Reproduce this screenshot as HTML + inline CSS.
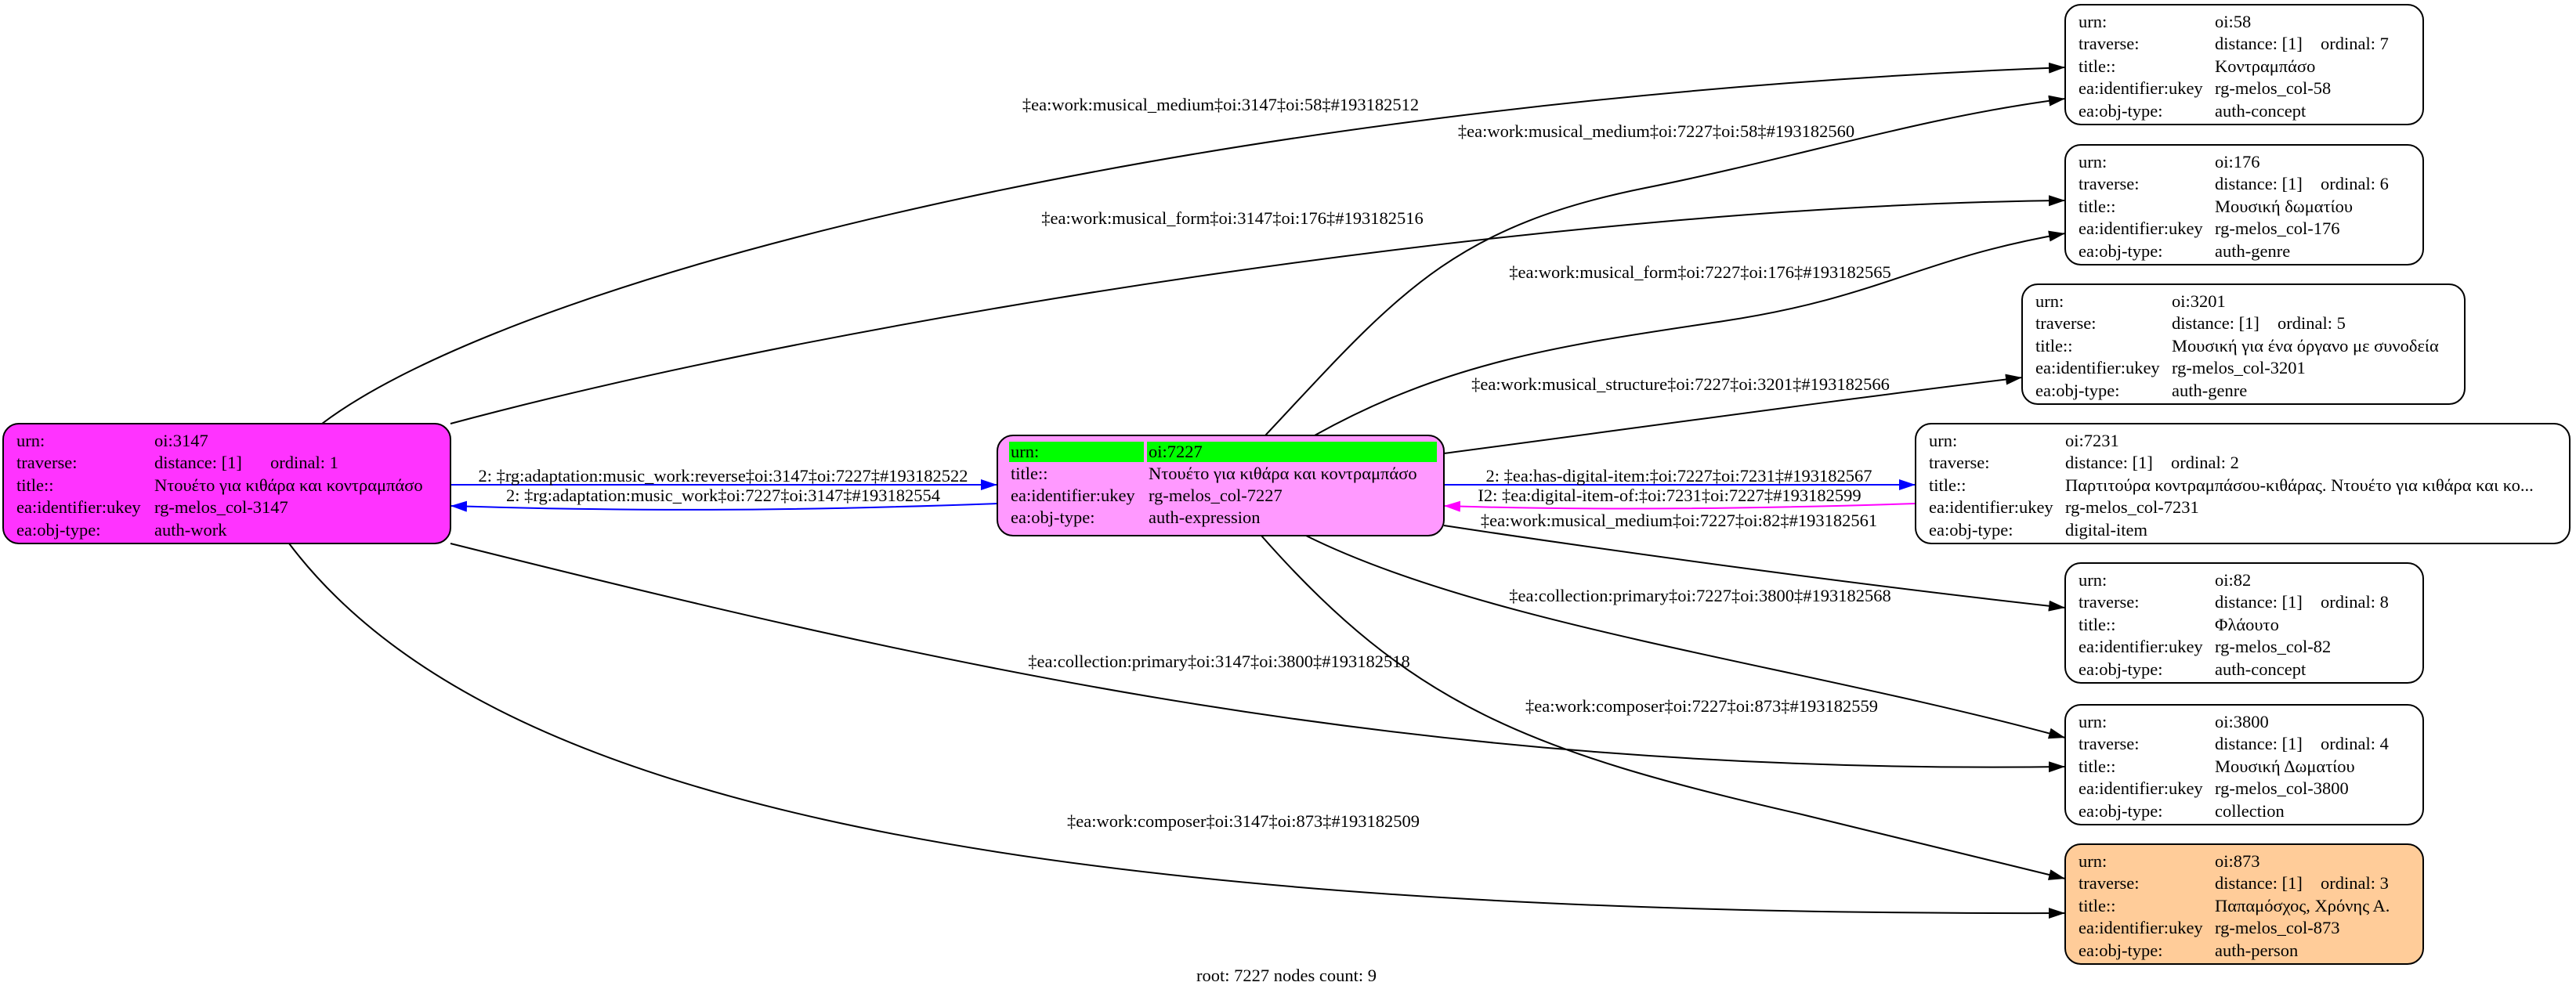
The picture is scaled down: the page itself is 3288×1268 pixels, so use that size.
<!DOCTYPE html>
<html><head><meta charset="utf-8"><style>
html,body{margin:0;padding:0;background:#fff;}
svg{display:block;}
text{font-family:"Liberation Serif","DejaVu Serif",serif;font-size:22.5px;fill:#000;}
</style></head><body>
<svg width="3288" height="1268" viewBox="0 0 3288 1268" xmlns="http://www.w3.org/2000/svg">
<defs>
<marker id="ak" markerWidth="22" markerHeight="16" refX="21" refY="7" orient="auto" markerUnits="userSpaceOnUse"><path d="M0,0 L21,7 L0,14 z" fill="#000"/></marker>
<marker id="ab" markerWidth="22" markerHeight="16" refX="21" refY="7" orient="auto" markerUnits="userSpaceOnUse"><path d="M0,0 L21,7 L0,14 z" fill="#0000ff"/></marker>
<marker id="am" markerWidth="22" markerHeight="16" refX="21" refY="7" orient="auto" markerUnits="userSpaceOnUse"><path d="M0,0 L21,7 L0,14 z" fill="#ff00ff"/></marker>
</defs>
<g fill="none" stroke="#000" stroke-width="2">
<path d="M411,541 C650,360 1500,130 2636,86" marker-end="url(#ak)"/>
<path d="M575,541 C1100,400 2000,262 2636,256" marker-end="url(#ak)"/>
<path d="M575,694 C1200,850 1800,990 2636,979" marker-end="url(#ak)"/>
<path d="M369,694 C600,1000 1200,1170 2636,1166" marker-end="url(#ak)"/>
<path d="M1615,556 C1780,380 1850,290 2100,240 C2300,200 2450,150 2636,126" marker-end="url(#ak)"/>
<path d="M1678,556 C1850,460 2000,440 2200,410 C2400,380 2450,330 2636,298" marker-end="url(#ak)"/>
<path d="M1843,579 C2100,545 2350,510 2581,482" marker-end="url(#ak)"/>
<path d="M1843,671 C2100,710 2400,750 2636,776" marker-end="url(#ak)"/>
<path d="M1667,684 C1900,800 2300,850 2636,942" marker-end="url(#ak)"/>
<path d="M1610,684 C1800,900 1950,960 2300,1040 L2636,1122" marker-end="url(#ak)"/>
</g>
<g fill="none" stroke-width="2">
<path d="M575,619 L1273,619" stroke="#0000ff" marker-end="url(#ab)"/>
<path d="M1273,643 C1000,653 800,653 575,646" stroke="#0000ff" marker-end="url(#ab)"/>
<path d="M1843,619 L2445,619" stroke="#0000ff" marker-end="url(#ab)"/>
<path d="M2445,643 C2200,651 2000,651 1843,646" stroke="#ff00ff" marker-end="url(#am)"/>
</g>
<g text-anchor="middle">
<text x="1558" y="141">‡ea:work:musical_medium‡oi:3147‡oi:58‡#193182512</text>
<text x="2114" y="175">‡ea:work:musical_medium‡oi:7227‡oi:58‡#193182560</text>
<text x="1573" y="286">‡ea:work:musical_form‡oi:3147‡oi:176‡#193182516</text>
<text x="2170" y="355">‡ea:work:musical_form‡oi:7227‡oi:176‡#193182565</text>
<text x="2145" y="498">‡ea:work:musical_structure‡oi:7227‡oi:3201‡#193182566</text>
<text x="923" y="615">2: ‡rg:adaptation:music_work:reverse‡oi:3147‡oi:7227‡#193182522</text>
<text x="923" y="640">2: ‡rg:adaptation:music_work‡oi:7227‡oi:3147‡#193182554</text>
<text x="2143" y="615">2: ‡ea:has-digital-item:‡oi:7227‡oi:7231‡#193182567</text>
<text x="2131" y="640">I2: ‡ea:digital-item-of:‡oi:7231‡oi:7227‡#193182599</text>
<text x="2143" y="672">‡ea:work:musical_medium‡oi:7227‡oi:82‡#193182561</text>
<text x="2170" y="768">‡ea:collection:primary‡oi:7227‡oi:3800‡#193182568</text>
<text x="1556" y="852">‡ea:collection:primary‡oi:3147‡oi:3800‡#193182518</text>
<text x="2172" y="909">‡ea:work:composer‡oi:7227‡oi:873‡#193182559</text>
<text x="1587" y="1056">‡ea:work:composer‡oi:3147‡oi:873‡#193182509</text>
<text x="1642" y="1253">root: 7227 nodes count: 9</text>
</g>

<!-- 3147 -->
<rect x="4" y="541" width="571" height="153" rx="20" fill="#ff33ff" stroke="#000" stroke-width="2"/>
<g><text x="21" y="570">urn:</text><text x="197" y="570">oi:3147</text>
<text x="21" y="598">traverse:</text><text x="197" y="598">distance: [1]</text><text x="345" y="598">ordinal: 1</text>
<text x="21" y="627">title::</text><text x="197" y="627">Ντουέτο για κιθάρα και κοντραμπάσο</text>
<text x="21" y="655">ea:identifier:ukey</text><text x="197" y="655">rg-melos_col-3147</text>
<text x="21" y="684">ea:obj-type:</text><text x="197" y="684">auth-work</text></g>

<!-- 7227 -->
<rect x="1273" y="556" width="570" height="128" rx="20" fill="#ff99ff" stroke="#000" stroke-width="2"/>
<rect x="1288" y="564" width="172" height="26" fill="#00ff00"/>
<rect x="1464" y="564" width="370" height="26" fill="#00ff00"/>
<g><text x="1290" y="584">urn:</text><text x="1466" y="584">oi:7227</text>
<text x="1290" y="612">title::</text><text x="1466" y="612">Ντουέτο για κιθάρα και κοντραμπάσο</text>
<text x="1290" y="640">ea:identifier:ukey</text><text x="1466" y="640">rg-melos_col-7227</text>
<text x="1290" y="668">ea:obj-type:</text><text x="1466" y="668">auth-expression</text></g>

<!-- 58 -->
<rect x="2636" y="6" width="457" height="153" rx="20" fill="#fff" stroke="#000" stroke-width="2"/>
<g><text x="2653" y="35">urn:</text><text x="2827" y="35">oi:58</text>
<text x="2653" y="63">traverse:</text><text x="2827" y="63">distance: [1]</text><text x="2962" y="63">ordinal: 7</text>
<text x="2653" y="92">title::</text><text x="2827" y="92">Κοντραμπάσο</text>
<text x="2653" y="120">ea:identifier:ukey</text><text x="2827" y="120">rg-melos_col-58</text>
<text x="2653" y="149">ea:obj-type:</text><text x="2827" y="149">auth-concept</text></g>

<!-- 176 -->
<rect x="2636" y="185" width="457" height="153" rx="20" fill="#fff" stroke="#000" stroke-width="2"/>
<g><text x="2653" y="214">urn:</text><text x="2827" y="214">oi:176</text>
<text x="2653" y="242">traverse:</text><text x="2827" y="242">distance: [1]</text><text x="2962" y="242">ordinal: 6</text>
<text x="2653" y="271">title::</text><text x="2827" y="271">Μουσική δωματίου</text>
<text x="2653" y="299">ea:identifier:ukey</text><text x="2827" y="299">rg-melos_col-176</text>
<text x="2653" y="328">ea:obj-type:</text><text x="2827" y="328">auth-genre</text></g>

<!-- 3201 -->
<rect x="2581" y="363" width="565" height="153" rx="20" fill="#fff" stroke="#000" stroke-width="2"/>
<g><text x="2598" y="392">urn:</text><text x="2772" y="392">oi:3201</text>
<text x="2598" y="420">traverse:</text><text x="2772" y="420">distance: [1]</text><text x="2907" y="420">ordinal: 5</text>
<text x="2598" y="449">title::</text><text x="2772" y="449">Μουσική για ένα όργανο με συνοδεία</text>
<text x="2598" y="477">ea:identifier:ukey</text><text x="2772" y="477">rg-melos_col-3201</text>
<text x="2598" y="506">ea:obj-type:</text><text x="2772" y="506">auth-genre</text></g>

<!-- 7231 -->
<rect x="2445" y="541" width="835" height="153" rx="20" fill="#fff" stroke="#000" stroke-width="2"/>
<g><text x="2462" y="570">urn:</text><text x="2636" y="570">oi:7231</text>
<text x="2462" y="598">traverse:</text><text x="2636" y="598">distance: [1]</text><text x="2771" y="598">ordinal: 2</text>
<text x="2462" y="627">title::</text><text x="2636" y="627">Παρτιτούρα κοντραμπάσου-κιθάρας. Ντουέτο για κιθάρα και κο...</text>
<text x="2462" y="655">ea:identifier:ukey</text><text x="2636" y="655">rg-melos_col-7231</text>
<text x="2462" y="684">ea:obj-type:</text><text x="2636" y="684">digital-item</text></g>

<!-- 82 -->
<rect x="2636" y="719" width="457" height="153" rx="20" fill="#fff" stroke="#000" stroke-width="2"/>
<g><text x="2653" y="748">urn:</text><text x="2827" y="748">oi:82</text>
<text x="2653" y="776">traverse:</text><text x="2827" y="776">distance: [1]</text><text x="2962" y="776">ordinal: 8</text>
<text x="2653" y="805">title::</text><text x="2827" y="805">Φλάουτο</text>
<text x="2653" y="833">ea:identifier:ukey</text><text x="2827" y="833">rg-melos_col-82</text>
<text x="2653" y="862">ea:obj-type:</text><text x="2827" y="862">auth-concept</text></g>

<!-- 3800 -->
<rect x="2636" y="900" width="457" height="153" rx="20" fill="#fff" stroke="#000" stroke-width="2"/>
<g><text x="2653" y="929">urn:</text><text x="2827" y="929">oi:3800</text>
<text x="2653" y="957">traverse:</text><text x="2827" y="957">distance: [1]</text><text x="2962" y="957">ordinal: 4</text>
<text x="2653" y="986">title::</text><text x="2827" y="986">Μουσική Δωματίου</text>
<text x="2653" y="1014">ea:identifier:ukey</text><text x="2827" y="1014">rg-melos_col-3800</text>
<text x="2653" y="1043">ea:obj-type:</text><text x="2827" y="1043">collection</text></g>

<!-- 873 -->
<rect x="2636" y="1078" width="457" height="153" rx="20" fill="#ffcc99" stroke="#000" stroke-width="2"/>
<g><text x="2653" y="1107">urn:</text><text x="2827" y="1107">oi:873</text>
<text x="2653" y="1135">traverse:</text><text x="2827" y="1135">distance: [1]</text><text x="2962" y="1135">ordinal: 3</text>
<text x="2653" y="1164">title::</text><text x="2827" y="1164">Παπαμόσχος, Χρόνης Α.</text>
<text x="2653" y="1192">ea:identifier:ukey</text><text x="2827" y="1192">rg-melos_col-873</text>
<text x="2653" y="1221">ea:obj-type:</text><text x="2827" y="1221">auth-person</text></g>
</svg>
</body></html>
